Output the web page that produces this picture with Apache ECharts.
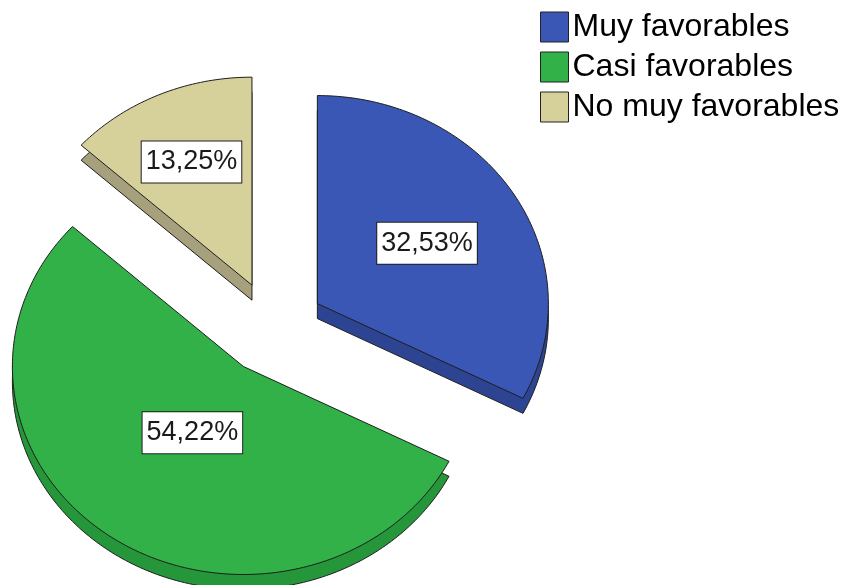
<!DOCTYPE html>
<html>
<head>
<meta charset="utf-8">
<script src="https://cdn.jsdelivr.net/npm/echarts@6/dist/echarts.min.js"></script>
<style>
  html, body { margin: 0; padding: 0; background: #ffffff; }
  #chart { width: 843px; height: 585px; }
</style>
</head>
<body>
<div id="chart"></div>
<script>
// Survey answers, share of respondents (%)
const categories = ['Muy favorables', 'Casi favorables', 'No muy favorables'];
const percents = [32.53, 54.22, 13.25];

// Slice colours: top face and darker side wall
const faceColors = ['#3a57b6', '#31b148', '#d6d09a'];
const sideColors = ['#2c4491', '#26963a', '#a6a17c'];

// Tilted-disc geometry
const CX = 273, CY = 328;      // disc centre
const RX = 231, RY = 208;      // ellipse radii of the top face
const DEPTH = 15;              // visible thickness of the disc
const EXPLODE = 52;            // distance each slice is pulled out

const total = percents.reduce((s, v) => s + v, 0);
const startAngles = [];
percents.reduce((acc, v, i) => { startAngles[i] = acc / total * 2 * Math.PI; return acc + v; }, 0);

function sectorPoints(cx, cy, a0, a1) {
  const pts = [[cx, cy]];
  const n = Math.max(4, Math.ceil((a1 - a0) / (Math.PI / 180)));
  for (let k = 0; k <= n; k++) {
    const t = a0 + (a1 - a0) * k / n;
    pts.push([cx + RX * Math.sin(t), cy - RY * Math.cos(t)]);
  }
  return pts;
}

function renderSlice(params, api) {
  const i = params.seriesIndex;
  const value = api.value(0);
  const a0 = startAngles[i];
  const sweep = value / total * 2 * Math.PI;
  const a1 = a0 + sweep;
  const mid = (a0 + a1) / 2;
  // exploded centre of this slice
  const cx = CX + EXPLODE * Math.sin(mid);
  const cy = CY - EXPLODE * Math.cos(mid) * (RY / RX);
  const top = sectorPoints(cx, cy, a0, a1);
  const side = top.map(p => [p[0], p[1] + DEPTH]);
  // label sits on the centroid of the face
  const f = (4 / 3) * Math.sin(sweep / 2) / sweep;
  const lx = cx + RX * f * Math.sin(mid);
  const ly = cy - RY * f * Math.cos(mid);
  return {
    type: 'group',
    children: [
      {
        type: 'polygon', z2: 0,
        shape: { points: side },
        style: { fill: sideColors[i], stroke: '#1e1e1e', lineWidth: 1 }
      },
      {
        type: 'polygon', z2: 10,
        shape: { points: top },
        style: { fill: faceColors[i], stroke: '#1e1e1e', lineWidth: 1 }
      },
      {
        type: 'text', z2: 20,
        x: lx, y: ly,
        style: {
          text: value.toFixed(2).replace('.', ',') + '%',
          fill: '#1a1a1a',
          font: '27px "Liberation Sans", Arial, sans-serif',
          align: 'center',
          verticalAlign: 'middle',
          backgroundColor: '#ffffff',
          borderColor: '#1e1e1e',
          borderWidth: 1,
          padding: [5, 4, 4, 4],
          lineHeight: 32
        }
      }
    ]
  };
}

const chart = echarts.init(document.getElementById('chart'), null, { renderer: 'canvas' });
chart.setOption({
  animation: false,
  backgroundColor: '#ffffff',
  legend: {
    orient: 'vertical',
    left: 540,
    top: 8,
    padding: 0,
    icon: 'rect',
    itemWidth: 28,
    itemHeight: 30,
    itemGap: 2,
    itemStyle: { borderColor: '#222222', borderWidth: 1 },
    textStyle: {
      fontFamily: '"Liberation Sans", Arial, sans-serif',
      fontSize: 32,
      lineHeight: 30,
      color: '#000000',
      padding: [8, 0, 0, -1]
    },
    data: categories
  },
  series: categories.map((name, i) => ({
    type: 'custom',
    name: name,
    coordinateSystem: 'none',
    itemStyle: { color: faceColors[i] },
    renderItem: renderSlice,
    data: [[percents[i]]]
  }))
});
</script>
</body>
</html>
